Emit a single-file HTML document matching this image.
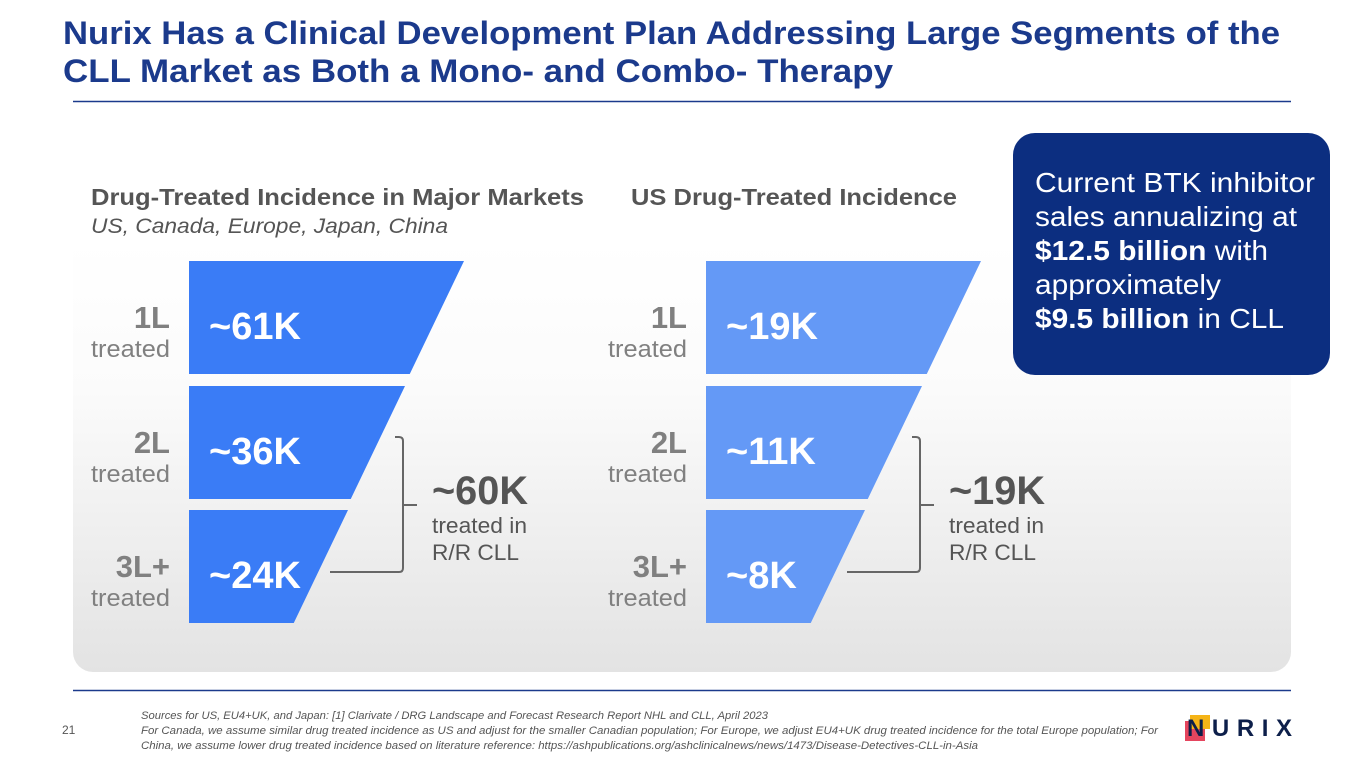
<!DOCTYPE html>
<html><head><meta charset="utf-8"><style>
body{margin:0;width:1365px;height:768px;overflow:hidden;background:#fff;font-family:"Liberation Sans",sans-serif;}
svg{position:absolute;left:0;top:0}
</style></head><body>
<svg width="1365" height="768">
<defs><linearGradient id="g" x1="0" y1="0" x2="0" y2="1"><stop offset="0" stop-color="#fff"/><stop offset="0.35" stop-color="#fbfbfb"/><stop offset="1" stop-color="#e3e3e3"/></linearGradient></defs>
<text x="63" y="44" font-size="32" font-weight="bold" fill="#1b3a8c" textLength="1217" lengthAdjust="spacingAndGlyphs">Nurix Has a Clinical Development Plan Addressing Large Segments of the</text>
<text x="63" y="82" font-size="32" font-weight="bold" fill="#1b3a8c" textLength="830" lengthAdjust="spacingAndGlyphs">CLL Market as Both a Mono- and Combo- Therapy</text>
<line x1="73" y1="101.5" x2="1291" y2="101.5" stroke="#1b3a8c" stroke-width="1.5"/>
<path d="M73 240 H1291 V652 a20 20 0 0 1 -20 20 H93 a20 20 0 0 1 -20 -20Z" fill="url(#g)"/>
<text x="91" y="205" font-size="23" font-weight="bold" fill="#555" textLength="493" lengthAdjust="spacingAndGlyphs">Drug-Treated Incidence in Major Markets</text>
<text x="91" y="233" font-size="21" font-style="italic" fill="#555" textLength="357" lengthAdjust="spacingAndGlyphs">US, Canada, Europe, Japan, China</text>
<text x="631" y="205" font-size="23" font-weight="bold" fill="#555" textLength="326" lengthAdjust="spacingAndGlyphs">US Drug-Treated Incidence</text>
<rect x="1013" y="133" width="317" height="242" rx="22" fill="#0c2e80"/>
<g font-size="28" fill="#fff">
<text x="1035" y="192" textLength="280" lengthAdjust="spacingAndGlyphs">Current BTK inhibitor</text>
<text x="1035" y="226" textLength="262" lengthAdjust="spacingAndGlyphs">sales annualizing at</text>
<text x="1035" y="260" textLength="233" lengthAdjust="spacingAndGlyphs"><tspan font-weight="bold">$12.5 billion</tspan> with</text>
<text x="1035" y="294" textLength="186" lengthAdjust="spacingAndGlyphs">approximately</text>
<text x="1035" y="328" textLength="249" lengthAdjust="spacingAndGlyphs"><tspan font-weight="bold">$9.5 billion</tspan> in CLL</text>
</g>
<g id="charts"></g>
<line x1="73" y1="690.5" x2="1291" y2="690.5" stroke="#1b3a8c" stroke-width="1.5"/>
<text x="62" y="734" font-size="12" fill="#555">21</text>
<g font-size="11" font-style="italic" fill="#555">
<text x="141" y="719" textLength="627" lengthAdjust="spacingAndGlyphs">Sources for US, EU4+UK, and Japan: [1] Clarivate / DRG Landscape and Forecast Research Report NHL and CLL, April 2023</text>
<text x="141" y="734" textLength="1017" lengthAdjust="spacingAndGlyphs">For Canada, we assume similar drug treated incidence as US and adjust for the smaller Canadian population; For Europe, we adjust EU4+UK drug treated incidence for the total Europe population; For</text>
<text x="141" y="749" textLength="837" lengthAdjust="spacingAndGlyphs">China, we assume lower drug treated incidence based on literature reference: https://ashpublications.org/ashclinicalnews/news/1473/Disease-Detectives-CLL-in-Asia</text>
</g>
<g>
<rect x="1185" y="721" width="20" height="20" fill="#e5455e"/>
<rect x="1190" y="715" width="20" height="14" fill="#f5b417"/>
<text x="1187" y="736" font-size="24" font-weight="bold" fill="#0d1f4a" textLength="105" lengthAdjust="spacing">NURIX</text>
</g>
</svg>
<script>
const lineLabels=["1L","2L","3L+"];
const majorValues=["~61K","~36K","~24K"];
const majorTotal="~60K";
const usValues=["~19K","~11K","~8K"];
const usTotal="~19K";
const NS="http://www.w3.org/2000/svg";
const g=document.getElementById('charts');
function mk(t,a,p){const e=document.createElementNS(NS,t);for(const k in a)e.setAttribute(k,a[k]);(p||g).appendChild(e);return e;}
function funnel(x0,vals,total,color,name){
  const topW=[275,216,159],top=[261,386,510],h=113,slope=0.48;
  for(let i=0;i<vals.length;i++){
    const y=top[i],xr=x0+topW[i];
    const p=mk('polygon',{points:`${x0},${y} ${xr},${y} ${xr-h*slope},${y+h} ${x0},${y+h}`,fill:color});
    
    
    const t=mk('text',{x:x0+20,y:y+78,'font-size':38,'font-weight':'bold',fill:'#fff'});t.textContent=vals[i];
    
    
    const l=mk('text',{x:x0-19,y:y+67,'font-size':31,'font-weight':'bold',fill:'#808080','text-anchor':'end'});l.textContent=lineLabels[i];
    
    
    const s=mk('text',{x:x0-19,y:y+96,'font-size':24,fill:'#808080','text-anchor':'end',textLength:79,lengthAdjust:'spacingAndGlyphs'});s.textContent='treated';
    
    
  }
  const b=mk('path',{d:`M${x0+206} 437 H${x0+210} q4 0 4 4 V568 q0 4 -4 4 H${x0+141} M${x0+214} 505 H${x0+228}`,fill:'none',stroke:'#666','stroke-width':2});
  
  
  const tt=mk('text',{x:x0+243,y:504,'font-size':40,'font-weight':'bold',fill:'#555',textLength:96,lengthAdjust:'spacingAndGlyphs'});tt.textContent=total;
  
  
  const a=mk('text',{x:x0+243,y:533,'font-size':22,fill:'#555',textLength:95,lengthAdjust:'spacingAndGlyphs'});a.textContent='treated in';
  
  
  const c=mk('text',{x:x0+243,y:560,'font-size':22,fill:'#555',textLength:87,lengthAdjust:'spacingAndGlyphs'});c.textContent='R/R CLL';
  
  
}
funnel(189,majorValues,majorTotal,'#3a7cf6','major-markets');
funnel(706,usValues,usTotal,'#6499f6','us');
</script>
</body></html>
